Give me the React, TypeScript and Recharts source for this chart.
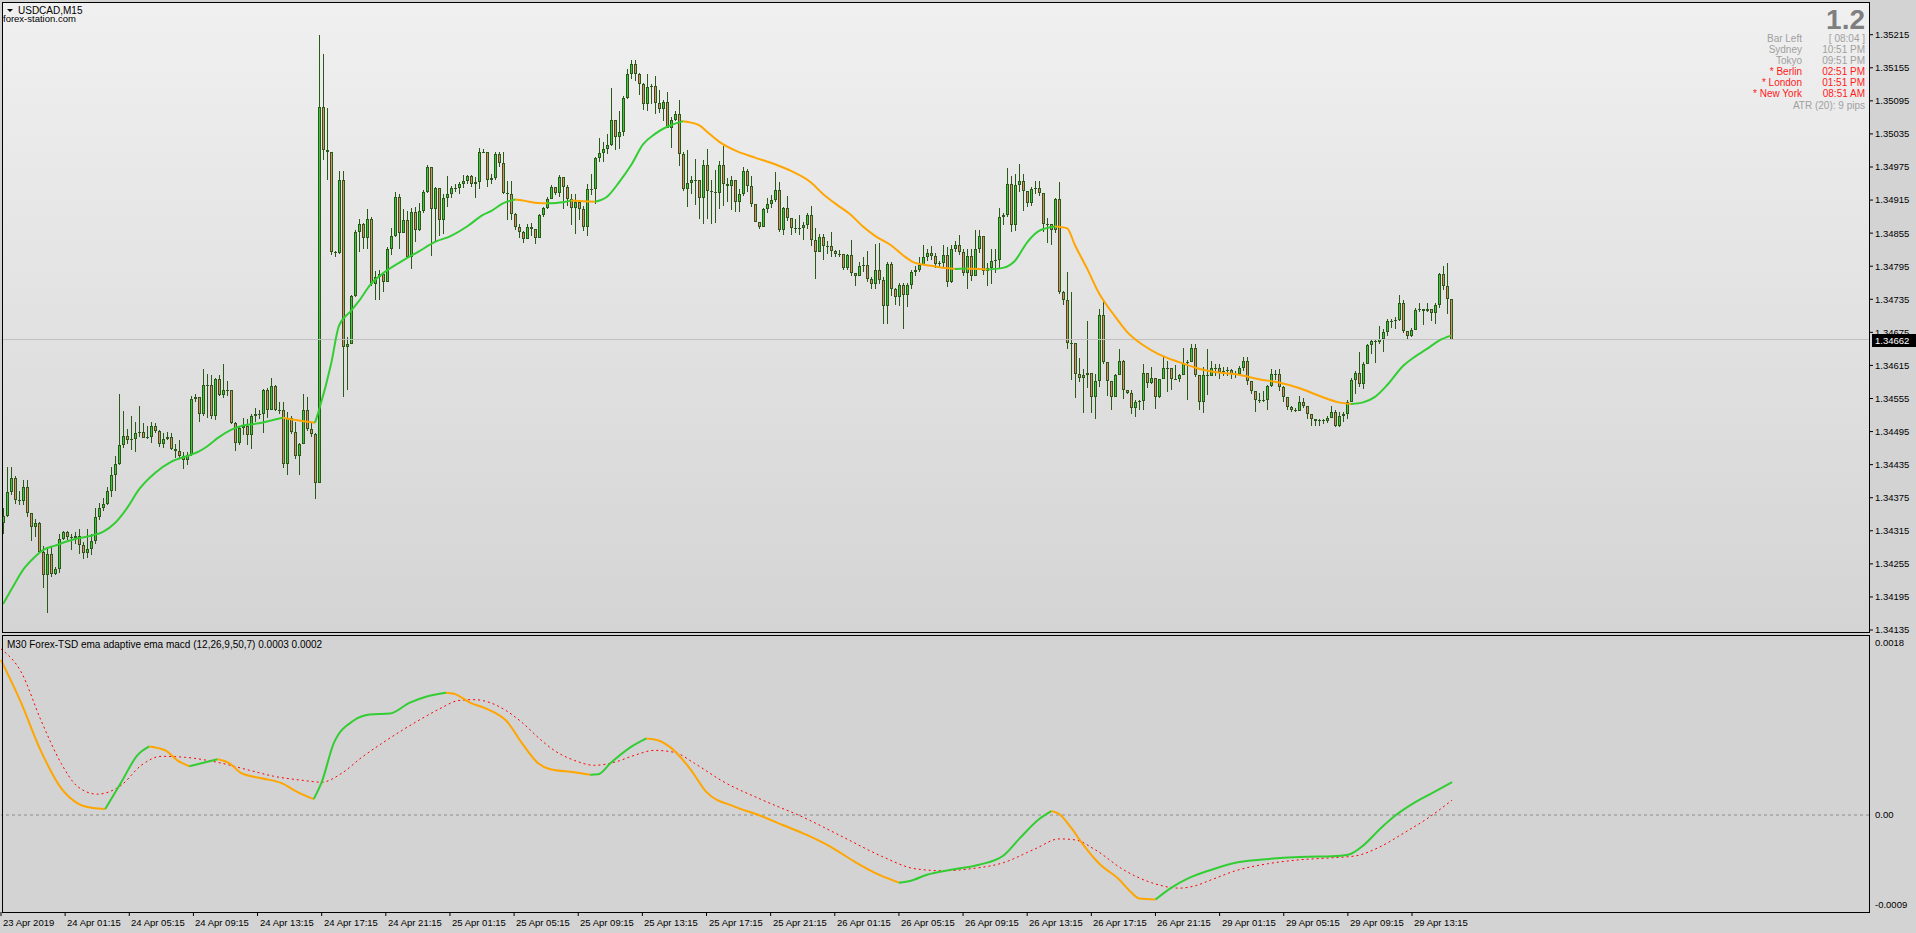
import React from "react";
import {
  ComposedChart,
  Bar,
  Line,
  XAxis,
  YAxis,
  ReferenceLine,
} from "recharts";

// prices are kept as points (0.00001) above 1.34000
const BASE = 1.34;
const firstOpenPts = 329;

// M15 candles, 23 Apr 21:15 .. 29 Apr 15:45
const closePts = [
  341, 385, 411, 371, 369, 394, 347, 322, 329, 277,
  234, 272, 236, 246, 300, 313, 304, 302, 305, 290,
  274, 282, 297, 340, 356, 363, 387, 416, 437, 470,
  487, 480, 481, 492, 495, 484, 485, 506, 496, 473,
  481, 485, 463, 459, 451, 444, 452, 555, 558, 527,
  579, 579, 524, 591, 562, 570, 570, 510, 475, 501,
  505, 489, 524, 526, 526, 570, 535, 577, 534, 534,
  436, 520, 494, 451, 473, 534, 499, 491, 402, 1084,
  1006, 1003, 820, 819, 951, 649, 654, 741, 857, 871,
  846, 881, 763, 776, 780, 767, 826, 850, 921, 855,
  878, 812, 894, 860, 896, 930, 975, 898, 937, 878,
  919, 926, 937, 937, 944, 949, 959, 945, 947, 1003,
  1003, 952, 955, 999, 982, 928, 926, 889, 867, 857,
  845, 867, 862, 846, 887, 901, 917, 939, 928, 956,
  938, 917, 901, 912, 898, 867, 935, 935, 991, 1000,
  1007, 1014, 1061, 1030, 1039, 1100, 1143, 1161, 1143, 1125,
  1089, 1120, 1122, 1091, 1080, 1093, 1046, 1061, 1071, 998,
  935, 946, 952, 951, 918, 978, 931, 930, 928, 978,
  945, 940, 951, 912, 926, 968, 940, 907, 876, 867,
  898, 907, 916, 933, 860, 901, 882, 864, 864, 864,
  869, 888, 843, 820, 848, 831, 831, 822, 817, 817,
  792, 815, 783, 778, 796, 798, 771, 763, 789, 770,
  723, 799, 753, 739, 761, 742, 761, 784, 789, 798,
  812, 819, 813, 799, 800, 815, 767, 826, 833, 820,
  783, 813, 777, 826, 850, 787, 792, 805, 807, 885,
  888, 944, 869, 942, 949, 931, 909, 935, 937, 928,
  871, 872, 860, 917, 749, 734, 656, 656, 600, 592,
  598, 602, 558, 586, 706, 621, 586, 558, 598, 623,
  570, 565, 538, 549, 551, 602, 583, 593, 558, 590,
  610, 610, 590, 591, 598, 619, 621, 647, 598, 548,
  598, 596, 610, 610, 603, 605, 607, 600, 600, 610,
  623, 586, 569, 553, 553, 553, 577, 600, 600, 576,
  558, 540, 534, 533, 549, 541, 527, 517, 515, 516,
  515, 520, 531, 505, 524, 526, 549, 588, 602, 581,
  617, 652, 660, 658, 663, 676, 695, 695, 697, 728,
  678, 669, 680, 716, 718, 713, 718, 711, 725, 780,
  760, 735, 662,
];

const highPts = [
  357, 430, 431, 414, 387, 407, 407, 348, 336, 331,
  288, 284, 288, 250, 309, 315, 315, 310, 312, 319,
  295, 319, 309, 357, 366, 374, 395, 430, 451, 563,
  533, 499, 524, 513, 541, 510, 506, 513, 510, 498,
  492, 494, 492, 472, 479, 458, 458, 560, 563, 558,
  609, 600, 597, 593, 597, 617, 586, 570, 513, 505,
  520, 517, 527, 538, 534, 572, 574, 593, 579, 548,
  549, 531, 524, 513, 475, 563, 558, 510, 492, 1214,
  1180, 1082, 1003, 822, 968, 968, 666, 742, 860, 881,
  874, 899, 885, 787, 789, 777, 829, 864, 930, 926,
  898, 896, 901, 903, 909, 933, 978, 975, 939, 937,
  926, 959, 940, 944, 948, 961, 961, 961, 957, 1009,
  1007, 1003, 963, 1003, 1003, 1003, 950, 950, 891, 871,
  859, 871, 874, 857, 889, 903, 920, 943, 939, 960,
  956, 943, 926, 926, 916, 905, 944, 963, 993, 1028,
  1021, 1034, 1118, 1061, 1076, 1103, 1152, 1169, 1169, 1146,
  1127, 1144, 1125, 1140, 1115, 1097, 1111, 1066, 1076, 1096,
  1003, 1006, 958, 989, 951, 987, 1007, 951, 969, 986,
  1013, 955, 958, 951, 935, 975, 971, 958, 907, 876,
  901, 919, 925, 966, 947, 903, 922, 882, 880, 887,
  875, 891, 905, 864, 853, 853, 840, 857, 825, 825,
  818, 818, 842, 783, 802, 812, 823, 776, 836, 838,
  776, 803, 803, 755, 765, 765, 765, 789, 796, 812,
  833, 826, 831, 819, 804, 833, 830, 833, 840, 851,
  826, 826, 826, 860, 861, 850, 801, 826, 826, 901,
  892, 973, 958, 963, 980, 963, 931, 938, 949, 949,
  928, 882, 872, 919, 948, 750, 784, 748, 656, 628,
  609, 695, 602, 600, 717, 733, 621, 586, 600, 644,
  625, 570, 570, 552, 553, 617, 602, 612, 593, 591,
  630, 623, 610, 616, 600, 646, 625, 653, 653, 598,
  612, 644, 623, 617, 617, 612, 612, 609, 605, 614,
  630, 630, 586, 569, 565, 569, 579, 609, 607, 609,
  577, 558, 541, 537, 560, 556, 541, 527, 517, 518,
  518, 523, 541, 534, 531, 531, 553, 593, 604, 640,
  621, 654, 661, 661, 686, 681, 700, 700, 703, 742,
  733, 678, 682, 719, 728, 717, 728, 718, 728, 782,
  795, 800, 735,
];

const lowPts = [
  309, 340, 381, 364, 361, 362, 340, 297, 304, 276,
  211, 166, 232, 236, 239, 298, 298, 281, 291, 274,
  264, 267, 270, 291, 336, 350, 362, 376, 388, 434,
  466, 472, 463, 459, 485, 482, 482, 475, 492, 468,
  465, 479, 461, 447, 445, 427, 434, 451, 548, 513,
  524, 520, 517, 517, 558, 556, 558, 508, 461, 470,
  489, 470, 463, 513, 517, 492, 520, 535, 531, 527,
  430, 416, 492, 445, 417, 472, 496, 485, 373, 401,
  987, 951, 817, 812, 817, 558, 569, 654, 739, 822,
  826, 826, 760, 734, 734, 748, 770, 815, 848, 827,
  867, 810, 791, 839, 859, 892, 928, 813, 839, 850,
  853, 903, 919, 930, 926, 937, 945, 940, 919, 935,
  999, 940, 945, 952, 975, 926, 880, 880, 861, 846,
  837, 843, 850, 835, 845, 885, 899, 917, 925, 920,
  898, 905, 870, 853, 880, 860, 849, 925, 908, 985,
  985, 998, 1012, 1007, 1007, 1030, 1097, 1134, 1131, 1106,
  1078, 1076, 1089, 1071, 1074, 1059, 1045, 1009, 1057, 977,
  932, 903, 926, 906, 880, 870, 880, 872, 872, 899,
  904, 912, 896, 893, 893, 922, 930, 901, 874, 864,
  867, 891, 901, 912, 856, 853, 877, 851, 855, 850,
  842, 862, 832, 772, 820, 805, 816, 812, 812, 812,
  789, 789, 777, 760, 777, 784, 766, 755, 755, 763,
  690, 690, 741, 724, 724, 682, 721, 754, 777, 784,
  796, 805, 805, 791, 792, 792, 757, 764, 820, 815,
  777, 753, 768, 777, 819, 780, 760, 763, 783, 790,
  871, 885, 856, 859, 930, 895, 902, 903, 926, 922,
  857, 837, 833, 856, 744, 724, 645, 588, 557, 584,
  530, 573, 529, 519, 576, 617, 560, 533, 558, 598,
  555, 562, 527, 522, 534, 534, 574, 582, 536, 557,
  590, 566, 570, 588, 585, 598, 553, 621, 593, 534,
  529, 560, 596, 596, 590, 596, 596, 591, 593, 597,
  605, 580, 563, 530, 547, 549, 533, 577, 588, 569,
  548, 534, 530, 529, 533, 538, 517, 506, 504, 505,
  509, 510, 520, 504, 504, 513, 519, 549, 562, 576,
  572, 617, 635, 620, 654, 640, 669, 684, 681, 695,
  674, 664, 666, 680, 711, 689, 711, 697, 689, 718,
  752, 707, 662,
];

// moving average on the price panel, read at these bars (points above base)
const emaBars = [
  0, 3, 5, 8, 10, 13, 18, 22, 25, 28, 31, 34, 38, 42, 47, 49, 51, 54, 57, 60,
  64, 68, 70, 74, 78, 79, 82, 84, 87, 89, 92, 95, 99, 104, 108, 112, 116, 120, 122, 125,
  128, 130, 133, 136, 140, 142, 145, 148, 151, 154, 157, 160, 163, 166, 169, 170, 174, 176, 179, 183,
  188, 193, 197, 202, 205, 208, 212, 215, 218, 222, 225, 228, 232, 235, 238, 241, 244, 246, 250, 253,
  256, 259, 263, 266, 268, 271, 274, 278, 281, 285, 289, 294, 299, 304, 309, 314, 319, 324, 329, 334,
  337, 340, 343, 346, 350, 353, 356, 359, 362,
];
const emaPts = [
  182, 220, 244, 268, 280, 288, 300, 306, 313, 329, 356, 390, 420, 440, 453, 459, 468, 485, 498, 506,
  510, 517, 520, 515, 511, 534, 617, 687, 714, 732, 763, 782, 801, 822, 839, 850, 867, 888, 895, 909,
  916, 914, 910, 909, 911, 914, 913, 912, 921, 947, 978, 1016, 1035, 1048, 1056, 1058, 1051, 1039, 1021, 1005,
  992, 980, 968, 947, 926, 909, 888, 867, 850, 833, 815, 801, 796, 792, 790, 791, 790, 789, 792, 805,
  838, 859, 867, 864, 833, 791, 746, 704, 676, 652, 635, 621, 609, 602, 598, 590, 584, 574, 560, 548,
  545, 548, 558, 579, 614, 631, 645, 660, 669,
];

// lower window, values in units of 0.0001
const macdBars = [
  0, 5, 10, 15, 19, 23, 26, 30, 34, 37, 41, 44, 47, 50, 54, 57, 60, 65, 70, 74,
  78, 80, 83, 88, 92, 97, 102, 106, 111, 113, 117, 121, 124, 126, 130, 134, 137, 143, 147, 149,
  152, 157, 161, 164, 167, 172, 176, 183, 189, 195, 201, 207, 213, 219, 224, 227, 231, 237, 244, 250,
  254, 259, 262, 264, 267, 270, 274, 279, 282, 284, 288, 292, 296, 302, 308, 314, 320, 326, 332, 336,
  340, 344, 348, 352, 357, 362,
];
const macdVals = [
  15.6, 11.3, 6.4, 2.7, 1.2, 0.7, 0.6, 3.3, 6.0, 6.9, 6.5, 5.5, 4.9, 5.2, 5.6, 5.2, 4.2, 3.7, 3.2, 2.3,
  1.6, 3.3, 7.2, 9.5, 10.1, 10.2, 11.3, 11.9, 12.3, 12.2, 11.3, 10.7, 10.1, 9.5, 7.2, 5.2, 4.6, 4.3, 4.05, 4.1,
  5.2, 6.8, 7.7, 7.5, 6.8, 4.6, 2.3, 0.85, 0.0, -1.0, -2.0, -3.2, -4.7, -6.0, -6.8, -6.6, -6.0, -5.5, -5.0, -4.1,
  -2.4, -0.4, 0.4, 0.1, -1.3, -3.0, -4.9, -6.5, -7.8, -8.4, -8.5, -7.3, -6.4, -5.5, -4.8, -4.5, -4.3, -4.2, -4.15, -4.0,
  -3.0, -1.4, 0.0, 1.1, 2.2, 3.3,
];
const signalBars = [
  0, 5, 10, 15, 19, 24, 30, 35, 40, 46, 54, 62, 68, 75, 80, 85, 90, 95, 100, 105,
  110, 114, 118, 122, 126, 130, 134, 138, 143, 148, 153, 158, 163, 168, 173, 180, 190, 200, 210, 220,
  228, 235, 242, 250, 258, 264, 268, 273, 280, 287, 294, 298, 302, 308, 316, 324, 332, 338, 344, 350,
  356, 362,
];
const signalVals = [
  16.7, 14.4, 9.5, 5.2, 2.9, 2.1, 3.0, 5.0, 5.9, 5.8, 5.3, 4.5, 3.9, 3.5, 3.3, 4.2, 5.8, 7.2, 8.5, 9.7,
  10.8, 11.5, 11.6, 11.3, 10.5, 9.3, 7.8, 6.5, 5.5, 5.0, 5.3, 6.0, 6.5, 6.3, 5.2, 3.4, 1.5, -0.2, -2.2, -4.2,
  -5.4, -5.6, -5.4, -4.8, -3.4, -2.4, -2.5, -3.5, -5.5, -6.8, -7.35, -7.1, -6.5, -5.6, -4.9, -4.5, -4.3, -4.1, -3.2, -1.8,
  -0.3, 1.5,
];

const priceTicks = [
  1.34135, 1.34195, 1.34255, 1.34315, 1.34375, 1.34435, 1.34495, 1.34555, 1.34615, 1.34675,
  1.34735, 1.34795, 1.34855, 1.34915, 1.34975, 1.35035, 1.35095, 1.35155, 1.35215,
];
const macdTicks = [0.0018, 0, -0.0009];
const macdTickLabels = ["0.0018", "0.00", "-0.0009"];
const timeLabels = [
  "23 Apr 2019", "24 Apr 01:15", "24 Apr 05:15", "24 Apr 09:15", "24 Apr 13:15", "24 Apr 17:15",
  "24 Apr 21:15", "25 Apr 01:15", "25 Apr 05:15", "25 Apr 09:15", "25 Apr 13:15", "25 Apr 17:15",
  "25 Apr 21:15", "26 Apr 01:15", "26 Apr 05:15", "26 Apr 09:15", "26 Apr 13:15", "26 Apr 17:15",
  "26 Apr 21:15", "29 Apr 01:15", "29 Apr 05:15", "29 Apr 09:15", "29 Apr 13:15",
];
const LAST_PRICE = 1.34662;

const infoRows = [
  { name: "Bar Left", value: "[ 08:04 ]", red: false },
  { name: "Sydney", value: "10:51 PM", red: false },
  { name: "Tokyo", value: "09:51 PM", red: false },
  { name: "* Berlin", value: "02:51 PM", red: true },
  { name: "* London", value: "01:51 PM", red: true },
  { name: "* New York", value: "08:51 AM", red: true },
];

const FONT = '"Liberation Sans", Arial, sans-serif';
const SLOTS = 467; // bars on screen incl. empty space on the right
const BARS_PER_LABEL = 16;
const EDGE = "#2b5a18";
const BULL = "#3cc83c";
const BEAR = "#e3876b";
const UP = "#32cd32";
const DOWN = "#ffa500";

const px = (pts: number) => +(BASE + pts / 1e5).toFixed(5);

type Seg = { up: boolean; pts: [number, number][] };
function slopeSegments(bars: number[], vals: number[]): Seg[] {
  const segs: Seg[] = [];
  for (let i = 1; i < bars.length; i++) {
    const up = vals[i] >= vals[i - 1];
    const last = segs[segs.length - 1];
    if (last && last.up === up) last.pts.push([bars[i], vals[i]]);
    else segs.push({ up, pts: [[bars[i - 1], vals[i - 1]], [bars[i], vals[i]]] });
  }
  return segs;
}

const rows: any[] = Array.from({ length: SLOTS }, (_, k) => ({ k }));
closePts.forEach((c, k) => {
  const o = k === 0 ? firstOpenPts : closePts[k - 1];
  const h = Math.max(highPts[k], o, c);
  const l = Math.min(lowPts[k], o, c);
  Object.assign(rows[k], { o: px(o), c: px(c), h: px(h), l: px(l), range: [px(l), px(h)] });
});

const emaSegs = slopeSegments(emaBars, emaPts.map(px));
emaSegs.forEach((s, j) => s.pts.forEach(([k, v]) => (rows[k]["ema" + j] = v)));
const macdSegs = slopeSegments(macdBars, macdVals.map((v) => v / 1e4));
macdSegs.forEach((s, j) => s.pts.forEach(([k, v]) => (rows[k]["macd" + j] = v)));
signalBars.forEach((k, i) => (rows[k].sig = signalVals[i] / 1e4));

const timeTicks = timeLabels.map((_, i) => i * BARS_PER_LABEL);

function Candle(props: any) {
  const { x, y, width, height, payload } = props;
  if (!payload || !payload.range || !isFinite(y) || !isFinite(height)) return <g />;
  const top = Math.min(y, y + height);
  const ht = Math.abs(height);
  const { o, h, l, c } = payload;
  const ratio = h > l ? ht / (h - l) : 0;
  const cx = Math.round(x + width / 2 - 0.5);
  const bTop = Math.round(top + (h - Math.max(o, c)) * ratio);
  const bBot = Math.round(top + (h - Math.min(o, c)) * ratio);
  const bodyH = Math.max(1, bBot - bTop);
  return (
    <g>
      <rect x={cx} y={Math.round(top)} width={1} height={Math.max(1, Math.round(ht))} fill={EDGE} />
      <rect x={cx - 1} y={bTop} width={3} height={bodyH} fill={EDGE} />
      {bodyH > 2 && (
        <rect x={cx} y={bTop + 1} width={1} height={bodyH - 2} fill={c >= o ? BULL : BEAR} />
      )}
    </g>
  );
}

function LastPriceTag(props: any) {
  const vb = props.viewBox || {};
  const y = Math.round(vb.y);
  return (
    <g>
      <rect x={1872} y={y - 6} width={44} height={13} fill="#000" />
      <text x={1875} y={y + 4} fill="#fff" fontSize={9.5} fontFamily={FONT}>
        {LAST_PRICE.toFixed(5)}
      </text>
    </g>
  );
}

function TimeTick(props: any) {
  const { x, y, payload } = props;
  const label = timeLabels[Math.round(payload.value / BARS_PER_LABEL)];
  return (
    <text x={Math.round(x) + 2} y={y + 8} fontSize={9.5} fontFamily={FONT} fill="#000">
      {label}
    </text>
  );
}

function MacdTick(props: any) {
  const { x, y, payload } = props;
  const i = macdTicks.indexOf(payload.value);
  return (
    <text x={x} y={y + (i === 0 ? 7 : 0)} dy="0.355em" fontSize={9.5} fontFamily={FONT} fill="#000">
      {macdTickLabels[i]}
    </text>
  );
}

export default function App(): React.ReactElement {
  return (
    <div
      style={{
        position: "fixed",
        left: 0,
        top: 0,
        width: 1916,
        height: 933,
        background: "#d3d3d3",
        fontFamily: FONT,
        overflow: "hidden",
      }}
    >
      <div
        style={{
          position: "absolute",
          left: 2,
          top: 2,
          width: 1868,
          height: 630,
          background: "linear-gradient(#f0f0f0, #d4d4d4)",
        }}
      />
      <div style={{ position: "absolute", left: 0, top: 0 }}>
        <ComposedChart
          width={1916}
          height={640}
          data={rows}
          margin={{ top: 3, right: 0, bottom: 8, left: 1 }}
          barCategoryGap={0}
        >
          <XAxis dataKey="k" hide height={0} />
          <YAxis
            orientation="right"
            width={47}
            type="number"
            domain={[1.341314, 1.352725]}
            allowDataOverflow
            ticks={priceTicks}
            interval={0}
            tickSize={4}
            tickMargin={2}
            axisLine={false}
            tickLine={{ stroke: "#000" }}
            tick={{ fontSize: 9.5, fill: "#000", fontFamily: FONT }}
            tickFormatter={(v: number) => v.toFixed(5)}
          />
          <ReferenceLine y={LAST_PRICE} stroke="#c0c0c0" label={<LastPriceTag />} />
          <Bar dataKey="range" shape={<Candle />} barSize={3} isAnimationActive={false} />
          {emaSegs.map((s, j) => (
            <Line
              key={"ema" + j}
              dataKey={"ema" + j}
              type="monotone"
              stroke={s.up ? UP : DOWN}
              strokeWidth={2}
              dot={false}
              activeDot={false}
              connectNulls
              isAnimationActive={false}
            />
          ))}
        </ComposedChart>
      </div>
      <div style={{ position: "absolute", left: 0, top: 635 }}>
        <ComposedChart
          width={1916}
          height={298}
          data={rows}
          margin={{ top: 1, right: 0, bottom: 0, left: 1 }}
        >
          <XAxis
            dataKey="k"
            type="category"
            ticks={timeTicks}
            interval={0}
            height={21}
            tickSize={4}
            axisLine={false}
            tickLine={{ stroke: "#000" }}
            tick={<TimeTick />}
          />
          <YAxis
            orientation="right"
            width={47}
            type="number"
            domain={[-0.000975, 0.0018]}
            allowDataOverflow
            ticks={macdTicks}
            interval={0}
            tickSize={4}
            tickMargin={2}
            axisLine={false}
            tickLine={false}
            tick={<MacdTick />}
          />
          <ReferenceLine y={0} stroke="#8c8c8c" strokeDasharray="3 3" />
          <Line
            dataKey="sig"
            type="monotone"
            stroke="#ff0000"
            strokeWidth={1}
            strokeDasharray="2 3"
            dot={false}
            activeDot={false}
            connectNulls
            isAnimationActive={false}
          />
          {macdSegs.map((s, j) => (
            <Line
              key={"macd" + j}
              dataKey={"macd" + j}
              type="monotone"
              stroke={s.up ? UP : DOWN}
              strokeWidth={2}
              dot={false}
              activeDot={false}
              connectNulls
              isAnimationActive={false}
            />
          ))}
        </ComposedChart>
      </div>
      <div
        style={{
          position: "absolute",
          left: 2,
          top: 2,
          width: 1868,
          height: 631,
          border: "1px solid #000",
          boxSizing: "border-box",
          pointerEvents: "none",
        }}
      />
      <div
        style={{
          position: "absolute",
          left: 2,
          top: 635,
          width: 1868,
          height: 278,
          border: "1px solid #000",
          boxSizing: "border-box",
          pointerEvents: "none",
        }}
      />
      <svg
        width={1916}
        height={933}
        style={{ position: "absolute", left: 0, top: 0, pointerEvents: "none" }}
        fontFamily={FONT}
      >
        <path d="M7 9 L13 9 L10 12 Z" fill="#000" />
        <text x={18} y={14} fontSize={10} fill="#000">
          USDCAD,M15
        </text>
        <text x={3} y={21.5} fontSize={9.5} fill="#000">
          forex-station.com
        </text>
        <text x={1865} y={29} textAnchor="end" fontSize={28} fontWeight="bold" fill="#7f7f7f">
          1.2
        </text>
        {infoRows.map((r, i) => (
          <g key={r.name} fill={r.red ? "#ff1a1a" : "#a0a0a0"} fontSize={10}>
            <text x={1802} y={42 + i * 11} textAnchor="end">
              {r.name}
            </text>
            <text x={1865} y={42 + i * 11} textAnchor="end">
              {r.value}
            </text>
          </g>
        ))}
        <text x={1865} y={108.5} textAnchor="end" fontSize={10} fill="#a0a0a0">
          ATR (20): 9 pips
        </text>
        <text x={7} y={648} fontSize={10} fill="#000">
          M30 Forex-TSD ema adaptive ema macd (12,26,9,50,7) 0.0003 0.0002
        </text>
      </svg>
    </div>
  );
}
